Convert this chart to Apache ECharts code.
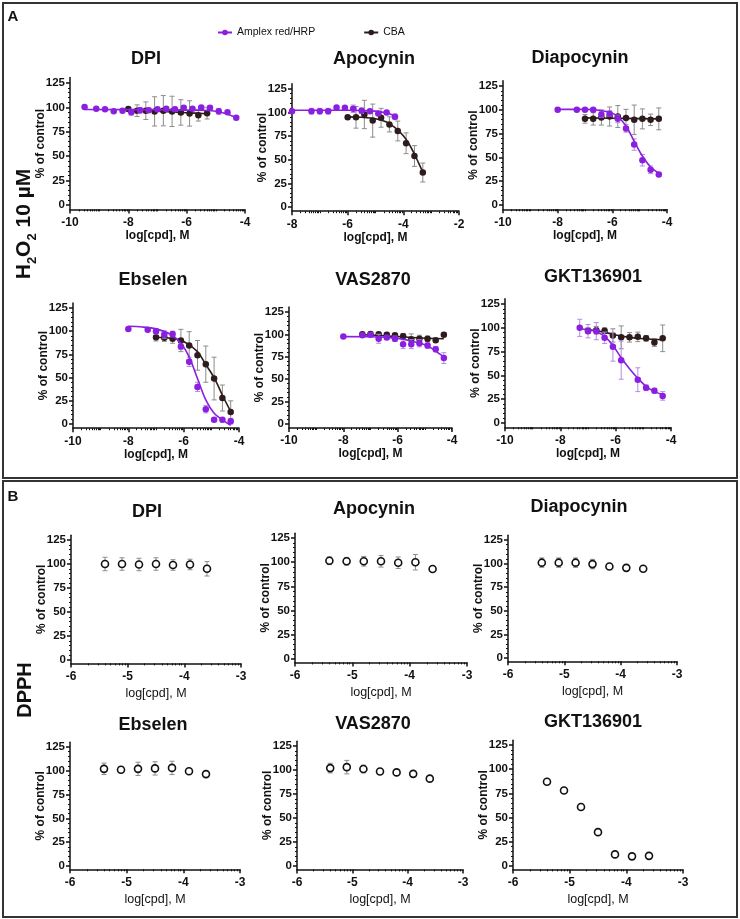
<!DOCTYPE html>
<html>
<head>
<meta charset="utf-8">
<script src="https://cdn.jsdelivr.net/npm/echarts@6/dist/echarts.min.js"></script>
<style>
html, body { margin: 0; padding: 0; background: #fff; }
#chart { width: 740px; height: 919px; }
</style>
</head>
<body>
<div id="chart"></div>
<script>
// ---------- data ----------
// shared dilution steps, log[cpd] (M)
const xAmp12 = [-8.0, -7.3, -7.0, -6.7, -6.4, -6.1, -5.8, -5.5, -5.2, -4.9, -4.6, -4.3];
const xCba10 = [-7.0, -6.7, -6.4, -6.1, -5.8, -5.5, -5.2, -4.9, -4.6, -4.3];
const xB = [-5.4, -5.1, -4.8, -4.5, -4.2, -3.9, -3.6];

// tick labels
const yTicks = [0, 25, 50, 75, 100, 125];
const xTicksA = [-10, -8, -6, -4];
const xTicksApo = [-8, -6, -4, -2];
const xTicksB = [-6, -5, -4, -3];

// A: DPI
const dpiAmpX = [-9.5, -9.1, -8.8, -8.5, -8.2, -7.9, -7.6, -7.3, -7.0, -6.7, -6.4, -6.1, -5.8, -5.5, -5.2, -4.9, -4.6, -4.3];
const dpiAmpY = [100.5, 98.5, 98, 96, 96.5, 95, 97, 97, 98, 98.5, 98, 99.5, 98.5, 100, 99.5, 96, 95, 89.5];
const dpiAmpErr = [1, 1, 1, 1, 1, 3, 3, 2, 2, 2, 2, 2, 1, 1, 2, 3, 1, 1];
const dpiAmpFitX = [-9.5, -7, -5.5, -5, -4.7, -4.5, -4.3];
const dpiAmpFitY = [97.8, 97.5, 97, 96, 94, 92, 89.5];
const dpiCbaX = [-8.0, -7.7, -7.4, -7.1, -6.8, -6.5, -6.2, -5.9, -5.6, -5.3];
const dpiCbaY = [98.3, 96.6, 96.6, 95.9, 96.6, 95.9, 94.8, 93.8, 92, 94.1];
const dpiCbaErr = [2, 6, 9, 15, 15.5, 15.5, 13, 13, 6, 6];
const dpiCbaFitX = [-8, -7, -6, -5.3];
const dpiCbaFitY = [97.5, 96, 94.5, 93.5];

// A: Apocynin
const apoAmpY = [101.5, 101.5, 101.5, 101.5, 105.5, 105, 104, 102, 101.5, 99, 100, 95.5];
const apoAmpErr = [1, 3, 3, 3, 1, 1, 4, 3, 2, 2, 1, 3];
const apoAmpFitX = [-8, -6, -5, -4.6, -4.3];
const apoAmpFitY = [102.5, 102.5, 101.5, 99.5, 96.5];
const apoCbaX = [-6.0, -5.7, -5.4, -5.1, -4.8, -4.5, -4.2, -3.9, -3.6, -3.3];
const apoCbaY = [95, 95, 98, 91.5, 94.5, 87.5, 80.5, 67.5, 54, 36.5];
const apoCbaErr = [2, 11.5, 15, 17.5, 10, 8, 10.5, 11, 11, 10];
const apoCbaFitX = [-6, -5.5, -5, -4.6, -4.3, -4, -3.8, -3.6, -3.45, -3.3];
const apoCbaFitY = [95.5, 95, 93.5, 90, 84, 75.5, 67, 56, 46.5, 37];

// A: Diapocynin
const diaAmpY = [100, 100, 100, 100, 95, 96, 90.5, 80.5, 63.5, 47, 37, 32];
const diaAmpErr = [1, 1, 1, 1, 3, 3, 4, 4, 6, 6, 4, 2];
const diaAmpFitX = [-8, -7, -6.5, -6, -5.8, -5.5, -5.2, -4.9, -4.6, -4.3];
const diaAmpFitY = [100.5, 100.5, 99.5, 96.5, 93, 83, 67, 51.5, 40, 33.5];
const diaCbaY = [90.5, 90.5, 92, 93, 93, 91.5, 89.5, 90.5, 89.5, 90.5];
const diaCbaErr = [4.5, 6.5, 8, 10, 11.5, 9, 15.5, 10.5, 6, 11.5];
const diaCbaFitX = [-7, -5.5, -4.3];
const diaCbaFitY = [91.5, 91, 90.5];

// A: Ebselen
const ebsAmpY = [102.5, 101.5, 100, 96.5, 97, 83.5, 67, 40, 16, 4.5, 4.5, 3];
const ebsAmpErr = [1, 2, 3, 4, 3, 3, 5, 5, 4, 2, 2, 3];
const ebsAmpFitX = [-8, -7.5, -7, -6.5, -6.1, -5.8, -5.5, -5.2, -4.9, -4.6, -4.3];
const ebsAmpFitY = [105.3, 104.6, 102.5, 97, 87, 72, 49, 26, 11.5, 4.5, -1.5];
const ebsCbaY = [93.5, 93, 92, 90, 84.5, 74, 64.5, 49, 28, 13];
const ebsCbaErr = [4, 4, 5, 12, 15, 16, 19.5, 23, 14, 12];
const ebsCbaFitX = [-7, -6.5, -6, -5.5, -5.2, -5, -4.8, -4.6, -4.3];
const ebsCbaFitY = [93.5, 92.5, 89, 78, 64, 55, 44, 31, 13.5];

// A: VAS2870
const vasAmpY = [97.5, 99, 99.5, 95, 96.5, 95, 89, 89, 90, 87.5, 83.5, 73.5];
const vasAmpErr = [1, 2, 2, 5, 2, 3, 5, 5, 4, 3, 3, 6];
const vasAmpFitX = [-8, -7, -6, -5.5, -5, -4.7, -4.5, -4.3];
const vasAmpFitY = [97.5, 97.3, 95.5, 92.5, 88.5, 83.5, 79, 75];
const vasCbaX = [-7.3, -7.0, -6.7, -6.4, -6.1, -5.8, -5.5, -5.2, -4.9, -4.6, -4.3];
const vasCbaY = [100, 100.5, 100, 99.5, 99, 98, 94.5, 95, 95, 93.5, 99.5];
const vasCbaErr = [2, 2, 2, 2, 2, 3, 6, 4, 3, 2, 2];
const vasCbaFitX = [-7.3, -6.5, -5.5, -4.3];
const vasCbaFitY = [99.5, 98.5, 96.5, 95];

// A: GKT136901
const gktAmpX = [-7.3, -7.0, -6.7, -6.4, -6.1, -5.8, -5.2, -4.9, -4.6, -4.3];
const gktAmpY = [100, 96.5, 96.5, 89.5, 80, 66, 45.5, 37, 34, 28.5];
const gktAmpErr = [9, 7, 9, 6, 15, 20, 12.5, 3, 2.5, 4.5];
const gktAmpFitX = [-7.3, -7, -6.7, -6.4, -6.1, -5.8, -5.5, -5.2, -4.9, -4.6, -4.3];
const gktAmpFitY = [99, 98, 96, 91, 81.5, 68.5, 57, 47, 38.5, 33, 30];
const gktCbaY = [97, 97.5, 97, 92, 90, 90, 90.5, 89, 84.5, 89];
const gktCbaErr = [3, 4, 3, 7, 12, 5, 5, 3, 4, 14];
const gktCbaFitX = [-7, -6.5, -6, -5.5, -5, -4.3];
const gktCbaFitY = [98, 96, 92.5, 90, 88.5, 87.5];

// B: DPPH
const dpiB = [100, 100, 99.5, 100, 99, 99.5, 95];
const dpiBErr = [7, 6.5, 6.5, 6.5, 5.5, 5.5, 7.5];
const apoB = [101.5, 101, 101, 101, 99.5, 100, 93];
const apoBErr = [4, 4, 5, 6, 6, 8, 0];
const diaB = [101, 101, 101, 99.5, 97, 95.5, 94.5];
const diaBErr = [5, 5, 5, 5, 2, 0, 0];
const ebsB = [102, 101, 102, 102.5, 103, 99.5, 96.5];
const ebsBErr = [6, 3, 7, 7, 7, 0, 0];
const vasB = [102, 103, 101, 98.5, 97.5, 96, 91];
const vasBErr = [5, 7, 4, 0, 0, 0, 0];
const gktB = [87, 78, 61, 35, 12, 10, 10.5];
const gktBErr = [0, 0, 0, 0, 0, 0, 0];

// ---------- styling ----------
const FONT = '"Liberation Sans", Arial, Helvetica, sans-serif';
const PURPLE = '#8a1fe0';
const PURPLE_ERR = '#b48be4';
const DARK = '#2e1c1c';
const GREY_ERR = '#8c8c8c';
const INK = '#111';

// box = [left, right, top, bottom] in px
const panels = [
    { title: 'DPI', tx: 146, ty: 59, box: [70, 245, 77.6, 209.4], xr: [-10, -4], xt: xTicksA, kind: 'A',
      amp: [dpiAmpX, dpiAmpY, dpiAmpErr, dpiAmpFitX, dpiAmpFitY], cba: [dpiCbaX, dpiCbaY, dpiCbaErr, dpiCbaFitX, dpiCbaFitY] },
    { title: 'Apocynin', tx: 374, ty: 59, box: [292, 459, 83.8, 211.2], xr: [-8, -2], xt: xTicksApo, kind: 'A',
      amp: [xAmp12, apoAmpY, apoAmpErr, apoAmpFitX, apoAmpFitY], cba: [apoCbaX, apoCbaY, apoCbaErr, apoCbaFitX, apoCbaFitY] },
    { title: 'Diapocynin', tx: 580, ty: 58, box: [503, 667, 80.8, 209.3], xr: [-10, -4], xt: xTicksA, kind: 'A',
      amp: [xAmp12, diaAmpY, diaAmpErr, diaAmpFitX, diaAmpFitY], cba: [xCba10, diaCbaY, diaCbaErr, diaCbaFitX, diaCbaFitY] },
    { title: 'Ebselen', tx: 153, ty: 280, box: [73, 239, 302.9, 428.2], xr: [-10, -4], xt: xTicksA, kind: 'A',
      amp: [xAmp12, ebsAmpY, ebsAmpErr, ebsAmpFitX, ebsAmpFitY], cba: [xCba10, ebsCbaY, ebsCbaErr, ebsCbaFitX, ebsCbaFitY] },
    { title: 'VAS2870', tx: 373, ty: 280, box: [289, 452, 307, 428], xr: [-10, -4], xt: xTicksA, kind: 'A',
      amp: [xAmp12, vasAmpY, vasAmpErr, vasAmpFitX, vasAmpFitY], cba: [vasCbaX, vasCbaY, vasCbaErr, vasCbaFitX, vasCbaFitY] },
    { title: 'GKT136901', tx: 593, ty: 277, box: [505, 671, 298.8, 427.3], xr: [-10, -4], xt: xTicksA, kind: 'A',
      amp: [gktAmpX, gktAmpY, gktAmpErr, gktAmpFitX, gktAmpFitY], cba: [xCba10, gktCbaY, gktCbaErr, gktCbaFitX, gktCbaFitY] },
    { title: 'DPI', tx: 147, ty: 512, box: [71, 241, 535.2, 663.4], xr: [-6, -3], xt: xTicksB, kind: 'B', pts: [xB, dpiB, dpiBErr] },
    { title: 'Apocynin', tx: 374, ty: 509, box: [295, 467, 533.2, 662.4], xr: [-6, -3], xt: xTicksB, kind: 'B', pts: [xB, apoB, apoBErr] },
    { title: 'Diapocynin', tx: 579, ty: 507, box: [508, 677, 535.3, 661.3], xr: [-6, -3], xt: xTicksB, kind: 'B', pts: [xB, diaB, diaBErr] },
    { title: 'Ebselen', tx: 153, ty: 725, box: [70, 240, 742.2, 869.3], xr: [-6, -3], xt: xTicksB, kind: 'B', pts: [xB, ebsB, ebsBErr] },
    { title: 'VAS2870', tx: 373, ty: 724, box: [297, 463, 741.2, 869.4], xr: [-6, -3], xt: xTicksB, kind: 'B', pts: [xB, vasB, vasBErr] },
    { title: 'GKT136901', tx: 593, ty: 722, box: [513, 683, 740.2, 869.4], xr: [-6, -3], xt: xTicksB, kind: 'B', pts: [xB, gktB, gktBErr] }
];

// log-style minor ticks on the log[cpd] axes
function minorLog(min, max, majors) {
    const out = [];
    for (let n = min; n < max; n++) {
        for (let k = 1; k < 10; k++) {
            const v = n + Math.log10(k);
            if (majors.indexOf(v) < 0) out.push(v);
        }
    }
    return out;
}
const yMinor = [];
for (let v = 5; v < 125; v += 5) if (v % 25) yMinor.push(v);

function errorBars(i, name, xs, ys, errs, color, z) {
    return {
        type: 'custom', name: name, xAxisIndex: 2 * i, yAxisIndex: 2 * i, z: z, silent: true,
        encode: { x: 0, y: 1 },
        data: xs.map((x, k) => [x, ys[k], errs[k]]),
        renderItem(params, api) {
            const e = api.value(2);
            if (!e) return { type: 'group', children: [] };
            const x = api.value(0), y = api.value(1);
            const a = api.coord([x, y + e]), b = api.coord([x, y - e]);
            const st = { stroke: color, lineWidth: 1 };
            return {
                type: 'group', children: [
                    { type: 'line', shape: { x1: a[0], y1: a[1], x2: b[0], y2: b[1] }, style: st },
                    { type: 'line', shape: { x1: a[0] - 2.5, y1: a[1], x2: a[0] + 2.5, y2: a[1] }, style: st },
                    { type: 'line', shape: { x1: b[0] - 2.5, y1: b[1], x2: b[0] + 2.5, y2: b[1] }, style: st }
                ]
            };
        }
    };
}

const grid = [], xAxis = [], yAxis = [], series = [], graphic = [];

panels.forEach((p, i) => {
    const A = p.kind === 'A';
    const yr = A ? [-4.5, 130.5] : [-3.5, 130];
    grid.push({ left: p.box[0], top: p.box[2], width: p.box[1] - p.box[0], height: p.box[3] - p.box[2] });

    xAxis.push({
        gridIndex: i, type: 'value', position: 'bottom', min: p.xr[0], max: p.xr[1],
        axisLine: { onZero: false, lineStyle: { color: INK, width: 1.5 } },
        axisTick: { customValues: p.xt, length: 4, lineStyle: { color: INK, width: 1.5 } },
        axisLabel: { customValues: p.xt, margin: 7, color: INK, fontFamily: FONT, fontSize: 12, fontWeight: 'bold' },
        splitLine: { show: false },
        name: 'log[cpd], M', nameLocation: 'middle', nameGap: A ? 20 : 24, nameMoveOverlap: false,
        nameTextStyle: { color: INK, fontFamily: FONT, fontSize: A ? 12 : 12.5, fontWeight: A ? 'bold' : 'normal' }
    });
    xAxis.push({
        gridIndex: i, type: 'value', position: 'bottom', min: p.xr[0], max: p.xr[1],
        axisLine: { show: false, onZero: false },
        axisTick: { customValues: minorLog(p.xr[0], p.xr[1], p.xt), length: 2, lineStyle: { color: INK, width: 1 } },
        axisLabel: { show: false }, splitLine: { show: false }
    });
    yAxis.push({
        gridIndex: i, type: 'value', position: 'left', min: yr[0], max: yr[1],
        axisLine: { onZero: false, lineStyle: { color: INK, width: 1.5 } },
        axisTick: { customValues: yTicks, length: 4, lineStyle: { color: INK, width: 1.5 } },
        axisLabel: { customValues: yTicks, margin: 5, color: INK, fontFamily: FONT, fontSize: 11.5, fontWeight: 'bold' },
        splitLine: { show: false },
        name: '% of control', nameLocation: 'middle', nameGap: 23, nameMoveOverlap: false,
        nameTextStyle: { color: INK, fontFamily: FONT, fontSize: 12, fontWeight: 'bold' }
    });
    yAxis.push({
        gridIndex: i, type: 'value', position: 'left', min: yr[0], max: yr[1],
        axisLine: { show: false, onZero: false },
        axisTick: { customValues: yMinor, length: 2, lineStyle: { color: INK, width: 1 } },
        axisLabel: { show: false }, splitLine: { show: false }
    });

    graphic.push({
        type: 'text', x: p.tx, y: p.ty,
        style: { text: p.title, font: 'bold 18px ' + FONT, fill: INK, align: 'center', verticalAlign: 'middle', textAlign: 'center', textVerticalAlign: 'middle' }
    });

    if (A) {
        const sets = [
            { name: 'CBA', d: p.cba, color: DARK, err: GREY_ERR, z: 2 },
            { name: 'Amplex red/HRP', d: p.amp, color: PURPLE, err: PURPLE_ERR, z: 5 }
        ];
        if (i === 0) sets.reverse();
        sets.forEach(s => {
            const [xs, ys, errs, fx, fy] = s.d;
            series.push({
                type: 'line', name: s.name, xAxisIndex: 2 * i, yAxisIndex: 2 * i, z: s.z,
                data: fx.map((x, k) => [x, fy[k]]), smooth: 0.35, showSymbol: false,
                symbol: 'circle', symbolSize: 7, silent: true,
                lineStyle: { color: s.color, width: 1.6 }, itemStyle: { color: s.color }
            });
            series.push(errorBars(i, s.name, xs, ys, errs, s.err, s.z));
            series.push({
                type: 'scatter', name: s.name, xAxisIndex: 2 * i, yAxisIndex: 2 * i, z: s.z + 1,
                data: xs.map((x, k) => [x, ys[k]]), symbol: 'circle', symbolSize: 6.5, silent: true,
                itemStyle: { color: s.color, opacity: 1 }
            });
        });
    } else {
        const [xs, ys, errs] = p.pts;
        series.push(errorBars(i, 'DPPH', xs, ys, errs, GREY_ERR, 2));
        series.push({
            type: 'scatter', name: 'DPPH', xAxisIndex: 2 * i, yAxisIndex: 2 * i, z: 3,
            data: xs.map((x, k) => [x, ys[k]]), symbol: 'circle', symbolSize: 7, silent: true,
            itemStyle: { color: '#fff', borderColor: INK, borderWidth: 1.6, opacity: 1 }
        });
    }
});

// panel frames and labels
graphic.push(
    { type: 'rect', shape: { x: 3, y: 3, width: 734, height: 475 }, style: { fill: 'none', stroke: '#333', lineWidth: 2 } },
    { type: 'rect', shape: { x: 3, y: 481, width: 734, height: 436 }, style: { fill: 'none', stroke: '#333', lineWidth: 2 } },
    { type: 'text', x: 13, y: 17, style: { text: 'A', font: 'bold 15px ' + FONT, fill: INK, align: 'center', verticalAlign: 'middle' } },
    { type: 'text', x: 13, y: 497, style: { text: 'B', font: 'bold 15px ' + FONT, fill: INK, align: 'center', verticalAlign: 'middle' } },
    {
        type: 'text', x: 24, y: 224, rotation: Math.PI / 2,
        style: {
            text: '{n|H}{s|2}{n|O}{s|2}{n| 10 µM}', align: 'center', verticalAlign: 'middle', fill: INK,
            rich: {
                n: { fontFamily: FONT, fontSize: 21, fontWeight: 'bold', color: INK, verticalAlign: 'bottom' },
                s: { fontFamily: FONT, fontSize: 13, fontWeight: 'bold', color: INK, verticalAlign: 'bottom', padding: [0, 0, -4, 0] }
            }
        }
    },
    {
        type: 'text', x: 25, y: 690, rotation: Math.PI / 2,
        style: { text: 'DPPH', font: 'bold 20px ' + FONT, fill: INK, align: 'center', verticalAlign: 'middle' }
    }
);

const chart = echarts.init(document.getElementById('chart'), null, { renderer: 'canvas' });
chart.setOption({
    animation: false,
    backgroundColor: '#fff',
    legend: {
        data: ['Amplex red/HRP', 'CBA'], left: 212, top: 22, itemWidth: 14, itemHeight: 7, itemGap: 48,
        selectedMode: false,
        textStyle: { color: INK, fontFamily: FONT, fontSize: 10.5 }
    },
    grid: grid,
    xAxis: xAxis,
    yAxis: yAxis,
    series: series,
    graphic: graphic
});
</script>
</body>
</html>
